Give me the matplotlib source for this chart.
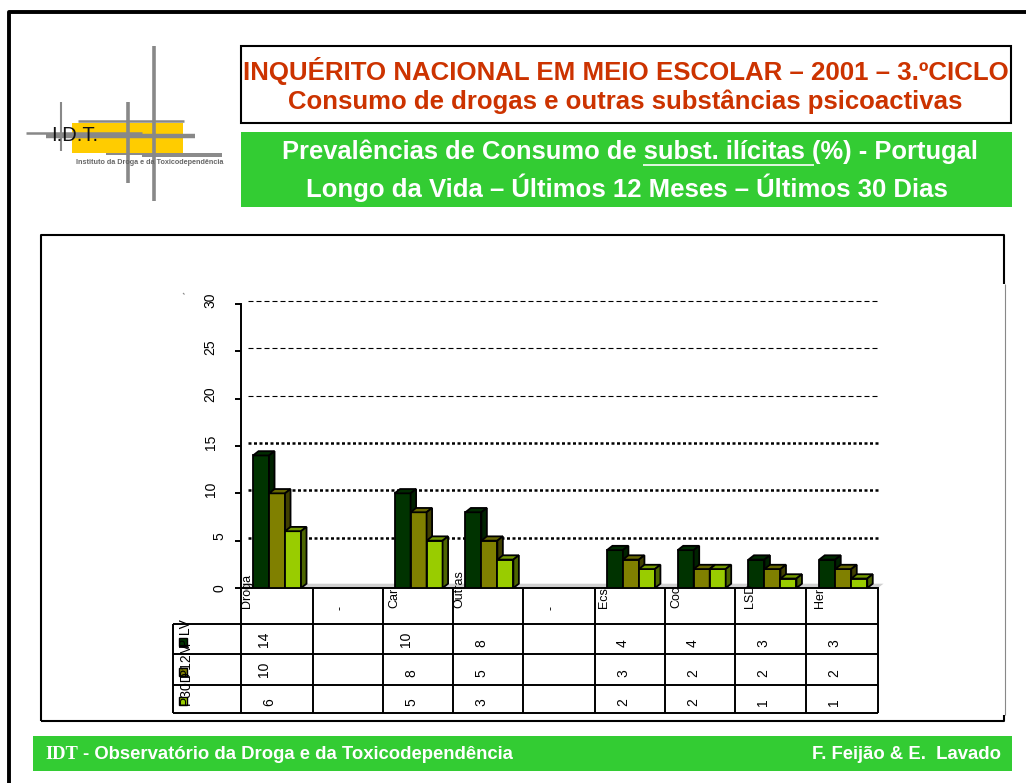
import matplotlib
matplotlib.use('Agg')
import matplotlib.pyplot as plt
from matplotlib.patches import Polygon, Rectangle
from matplotlib.transforms import ScaledTranslation
import numpy as np

plt.rcParams['font.family'] = ['Liberation Sans', 'DejaVu Sans']

# chart data
categories = ['Droga', '-', 'Car', 'Outras', '-', 'Ecs', 'Coc', 'LSD', 'Her']
p_lv = [14, np.nan, 10, 8, np.nan, 4, 4, 3, 3]
p_12m = [10, np.nan, 8, 5, np.nan, 3, 2, 2, 2]
p_30d = [6, np.nan, 5, 3, np.nan, 2, 2, 1, 1]
series_names = ['P LV', 'P12M', 'P30D']
y_ticks = [0, 5, 10, 15, 20, 25, 30]

# text
title1 = 'INQUÉRITO NACIONAL EM MEIO ESCOLAR – 2001 – 3.ºCICLO'
title2 = 'Consumo de drogas e outras substâncias psicoactivas'
head1 = 'Prevalências de Consumo de subst. ilícitas (%) - Portugal'
head2 = 'Longo da Vida – Últimos 12 Meses – Últimos 30 Dias'
foot_left = '- Observatório da Droga e da Toxicodependência'
foot_right = 'F. Feijão & E.  Lavado'

# colours: front, top, side
front = ['#003300', '#808000', '#99CC00']
top = ['#002B00', '#666600', '#739900']
side = ['#002200', '#404000', '#4D6600']
GREEN = '#33CC33'
RED = '#CC3300'
GREY = '#888888'

W, H = 1026, 783
fig = plt.figure(figsize=(W / 100, H / 100), dpi=100, facecolor='white')

# page layer in pixel coordinates
page = fig.add_axes([0, 0, 1, 1], zorder=0)
page.set_xlim(0, W)
page.set_ylim(H, 0)
page.axis('off')


def box(x0, y0, x1, y1, fc='none', ec='none', lw=0, z=1):
    page.add_patch(Rectangle((x0, y0), x1 - x0, y1 - y0, fc=fc, ec=ec, lw=lw, zorder=z))


def line(xs, ys, color='black', lw=1.4, z=2):
    page.plot(xs, ys, color=color, lw=lw, zorder=z, solid_capstyle='butt')


# slide border
line([8.5, 8.5, W], [H, 11.5, 11.5], lw=2.8)

# logo
box(72, 123, 183, 153, fc='#FFCC00')
line([154, 154], [46, 201], GREY, 2.6)
line([128, 128], [102, 183], GREY, 2.6)
line([61, 61], [102, 151], GREY, 1.5)
line([26, 142], [132.5, 132.5], GREY, 1.8)
line([46, 195], [135.5, 135.5], GREY, 3.2)
line([78, 184], [120.5, 120.5], GREY, 1.8)
line([106, 222], [154, 154], GREY, 1.4)
line([142, 222], [156, 156], GREY, 1.4)
page.text(74.5, 141, 'I.D.T.', ha='center', va='baseline', fontsize=14.5, color='#111111', zorder=3)
page.text(149.5, 162, 'Instituto da Droga e da Toxicodependência', ha='center', va='center',
          fontsize=5.2, color='#666666', fontweight='bold', zorder=3)

# header boxes
box(241, 46, 1010.5, 122.5, fc='white', ec='black', lw=1.5)
page.text(626, 71, title1, ha='center', va='center', color=RED, fontsize=18.6, fontweight='bold', zorder=3)
page.text(625, 102, title2, ha='center', va='center', color=RED, fontsize=18.5, fontweight='bold', zorder=3)
box(241, 132, 1012, 207, fc=GREEN)
page.text(630, 152, head1, ha='center', va='center', color='white', fontsize=18.4, fontweight='bold', zorder=3)
page.text(627, 188, head2, ha='center', va='center', color='white', fontsize=18.5, fontweight='bold', zorder=3)
line([643, 814], [165, 165], 'white', 1.2, 3)

# chart frame
line([40.5, 40.5, 1004, 1004], [720.5, 235, 235, 284], lw=1.5)
line([1004.5, 1004.5], [284, 715], GREY, 0.8)
line([40.5, 1004, 1004], [720.5, 720.5, 715], lw=1.5)
line([183, 184.5], [293, 294.5], GREY, 0.8)

# footer
box(33, 736, 1012, 771, fc=GREEN)
page.text(45, 754.5, 'IDT', ha='left', va='center', color='white', fontsize=13.3, fontweight='bold',
          family='Liberation Serif', zorder=3)
page.text(83, 754.5, foot_left, ha='left', va='center', color='white', fontsize=13.3, fontweight='bold', zorder=3)
page.text(1001.5, 754.5, foot_right, ha='right', va='center', color='white', fontsize=13.3, fontweight='bold', zorder=3)

# table grid
col_edges = [241, 313, 383, 453, 523, 595, 665, 735, 806, 878]
row_edges = [624, 654, 685, 713]
for x in col_edges:
    line([x, x], [588, 713])
line([173, 173], [624, 713])
for y in row_edges:
    line([173, 878], [y, y])

# table values and rotated labels
number_bottom = [647, 677, 706]
for row, vals in enumerate([p_lv, p_12m, p_30d]):
    for col, v in enumerate(vals):
        if not np.isnan(v):
            off = 23 if v >= 10 else 28
            page.text(col_edges[col] + off, number_bottom[row], str(v), rotation=90, ha='center',
                      va='bottom', fontsize=10, zorder=3)

legend_bottom = [648, 677, 705]
legend_square = [642, 672, 701]
for i, name in enumerate(series_names):
    box(179, legend_square[i] - 4, 187, legend_square[i] + 4, fc=front[i], ec='black', lw=1, z=3)
    page.text(186, legend_bottom[i], name, rotation=90, ha='center', va='bottom', fontsize=10, zorder=4)

# bar chart
left, right, y_top, y_bottom = 241, 878, 304, 588
ax = fig.add_axes([left / W, 1 - y_bottom / H, (right - left) / W, (y_bottom - y_top) / H], zorder=1)
ax.patch.set_alpha(0)
ax.set_xlim(0, len(categories))
ax.set_ylim(0, 30)
for s in ['top', 'right']:
    ax.spines[s].set_visible(False)
for s in ['left', 'bottom']:
    ax.spines[s].set_linewidth(1.4)
ax.set_xticks([])
ax.set_yticks(y_ticks)
ax.set_yticklabels([str(t) for t in y_ticks], rotation=90, va='center', fontsize=10)
ax.tick_params(axis='y', length=4.3, width=1.4)
for t, tick in zip(y_ticks, ax.yaxis.get_major_ticks()):
    tick.set_pad(6.5 if t < 10 else 12.5)
    tick.label1.set_transform(tick.label1.get_transform() + ScaledTranslation(0, 3 / 72 * (t > 0), fig.dpi_scale_trans))

px = len(categories) / (right - left)
py = 30 / (y_bottom - y_top)
dx, dy = 5.5 * px, 4.3 * py
bar_w = 16 * px

# floor of the 3D box
ax.add_patch(Polygon([(0, 0), (dx, dy), (len(categories) + dx, dy), (len(categories), 0)],
                     fc='#D0D0D0', ec='none', clip_on=False, zorder=1))

# back wall gridlines
grid_thin = (0, (4.5, 2.7))
grid_thick = (0, (1.2, 1))
for g in y_ticks[1:]:
    thick = g <= 15
    ax.plot([7 * px, len(categories) + 2 * px], [g + 3 * py, g + 3 * py], color='black',
            lw=1.8 if thick else 0.8, ls=grid_thick if thick else grid_thin, clip_on=False, zorder=2)

for s, vals in enumerate([p_lv, p_12m, p_30d]):
    pos = np.arange(len(categories)) + 0.17 + s * bar_w
    ax.bar(pos, vals, bar_w, align='edge', color=front[s], edgecolor='black', linewidth=1.3, zorder=4 + s)
    for x0, v in zip(pos, vals):
        if np.isnan(v):
            continue
        x1 = x0 + bar_w
        ax.add_patch(Polygon([(x0, v), (x0 + dx, v + dy), (x1 + dx, v + dy), (x1, v)], fc=top[s],
                             ec='black', lw=1.3, zorder=4 + s))
        ax.add_patch(Polygon([(x1, 0), (x1 + dx, dy), (x1 + dx, v + dy), (x1, v)], fc=side[s],
                             ec='black', lw=1.3, zorder=4 + s))

# category labels sit over the axis line
label_x = [247, 341, 394, 459, 552, 604, 676, 750, 820]
for lx, name in zip(label_x, categories):
    page_y = 610 if name == '-' else 608
    ax.annotate(name, xy=(lx, H - page_y), xycoords='figure pixels', rotation=90, ha='center',
                va='bottom', fontsize=9, annotation_clip=False, zorder=20)

fig.savefig('out.png', dpi=100)
